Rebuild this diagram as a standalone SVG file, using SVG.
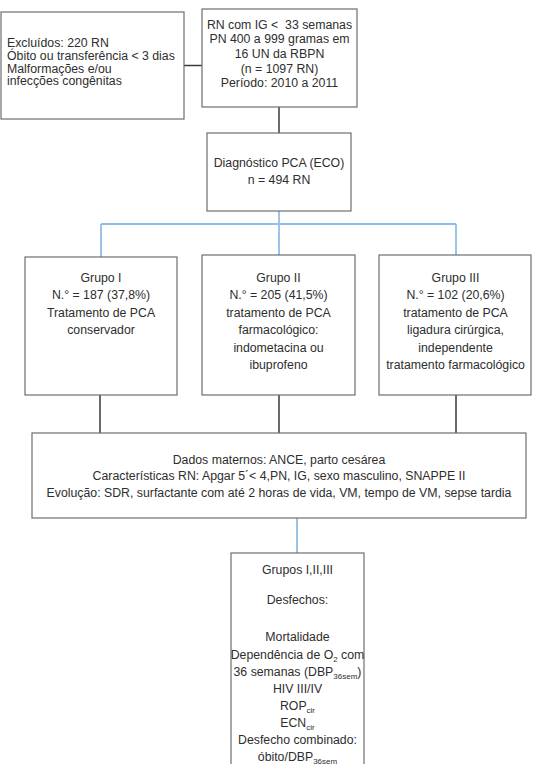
<svg xmlns="http://www.w3.org/2000/svg" width="541" height="764" viewBox="0 0 541 764">
<style>
.box{fill:#fff;stroke:#6e6e6e;stroke-width:1.2}
.t{font-family:"Liberation Sans",Arial,sans-serif;font-size:12.3px;fill:#2e2e2e}
.c{text-anchor:middle}
.blk{stroke:#3a3a3a;stroke-width:1.5;fill:none}
.blu{stroke:#92bde6;stroke-width:1.8;fill:none}
.sub{font-size:8px}
</style>
<rect width="541" height="764" fill="#fff"/>
<g id="connectors">
<path class="blk" d="M184 65.5H202"/>
<path class="blk" d="M279 107V133"/>
<path class="blu" d="M279 211V255M101 224H456M101 224V257M456 224V255"/>
<path class="blk" d="M100 395V433M279 395V433M456 395V433"/>
<path class="blu" d="M297 518V553"/>
</g>
<g id="excluidos">
<rect class="box" x="1" y="12" width="183" height="107"/>
<text class="t" x="7" y="47">Excluídos: 220 RN</text>
<text class="t" x="7" y="60">Óbito ou transferência &lt; 3 dias</text>
<text class="t" x="7" y="72.6">Malformações e/ou</text>
<text class="t" x="7" y="85.3">infecções congênitas</text>
</g>
<g id="populacao">
<rect class="box" x="202" y="9" width="155" height="98"/>
<text class="t c" x="279.5" y="28.5">RN com IG &lt;&#160; 33 semanas</text>
<text class="t c" x="279.5" y="43.2">PN 400 a 999 gramas em</text>
<text class="t c" x="279.5" y="57.9">16 UN da RBPN</text>
<text class="t c" x="279.5" y="72.6">(n = 1097 RN)</text>
<text class="t c" x="279.5" y="87.3">Período: 2010 a 2011</text>
</g>
<g id="diagnostico">
<rect class="box" x="207" y="133" width="144" height="78"/>
<text class="t c" x="279" y="167">Diagnóstico PCA (ECO)</text>
<text class="t c" x="279" y="183.6">n = 494 RN</text>
</g>
<g id="grupo1">
<rect class="box" x="25" y="257" width="152" height="138"/>
<text class="t c" x="101" y="281.5">Grupo I</text>
<text class="t c" x="101" y="299">N.° = 187 (37,8%)</text>
<text class="t c" x="101" y="316.5">Tratamento de PCA</text>
<text class="t c" x="101" y="334">conservador</text>
</g>
<g id="grupo2">
<rect class="box" x="202" y="255" width="153" height="140"/>
<text class="t c" x="278.5" y="281.5">Grupo II</text>
<text class="t c" x="278.5" y="299">N.° = 205 (41,5%)</text>
<text class="t c" x="278.5" y="316.5">tratamento de PCA</text>
<text class="t c" x="278.5" y="334">farmacológico:</text>
<text class="t c" x="278.5" y="351.5">indometacina ou</text>
<text class="t c" x="278.5" y="369">ibuprofeno</text>
</g>
<g id="grupo3">
<rect class="box" x="379" y="255" width="152" height="140"/>
<text class="t c" x="455.5" y="281.5">Grupo III</text>
<text class="t c" x="455.5" y="299">N.° = 102 (20,6%)</text>
<text class="t c" x="455.5" y="316.5">tratamento de PCA</text>
<text class="t c" x="455.5" y="334">ligadura cirúrgica,</text>
<text class="t c" x="455.5" y="351.5">independente</text>
<text class="t c" x="455.5" y="369">tratamento farmacológico</text>
</g>
<g id="dados">
<rect class="box" x="32" y="433" width="494" height="85"/>
<text class="t c" x="279" y="463.5">Dados maternos: ANCE, parto cesárea</text>
<text class="t c" x="279" y="480">Características RN: Apgar 5´&lt; 4,PN, IG, sexo masculino, SNAPPE II</text>
<text class="t c" x="279" y="497">Evolução: SDR, surfactante com até 2 horas de vida, VM, tempo de VM, sepse tardia</text>
</g>
<g id="desfechos">
<rect class="box" x="231" y="553" width="133" height="220"/>
<text class="t c" x="297.5" y="573.5">Grupos I,II,III</text>
<text class="t c" x="297.5" y="603.5">Desfechos:</text>
<text class="t c" x="297.5" y="640.5">Mortalidade</text>
<text class="t c" x="297.5" y="658.5">Dependência de O<tspan class="sub" dy="3">2</tspan><tspan dy="-3"> com</tspan></text>
<text class="t c" x="297.5" y="675.5">36 semanas (DBP<tspan class="sub" dy="3">36sem</tspan><tspan dy="-3">)</tspan></text>
<text class="t c" x="297.5" y="692.5">HIV III/IV</text>
<text class="t c" x="297.5" y="709.5">ROP<tspan class="sub" dy="3">cir</tspan></text>
<text class="t c" x="297.5" y="726.5">ECN<tspan class="sub" dy="3">cir</tspan></text>
<text class="t c" x="297.5" y="743.5">Desfecho combinado:</text>
<text class="t c" x="297.5" y="760.5">óbito/DBP<tspan class="sub" dy="3">36sem</tspan></text>
</g>
</svg>
